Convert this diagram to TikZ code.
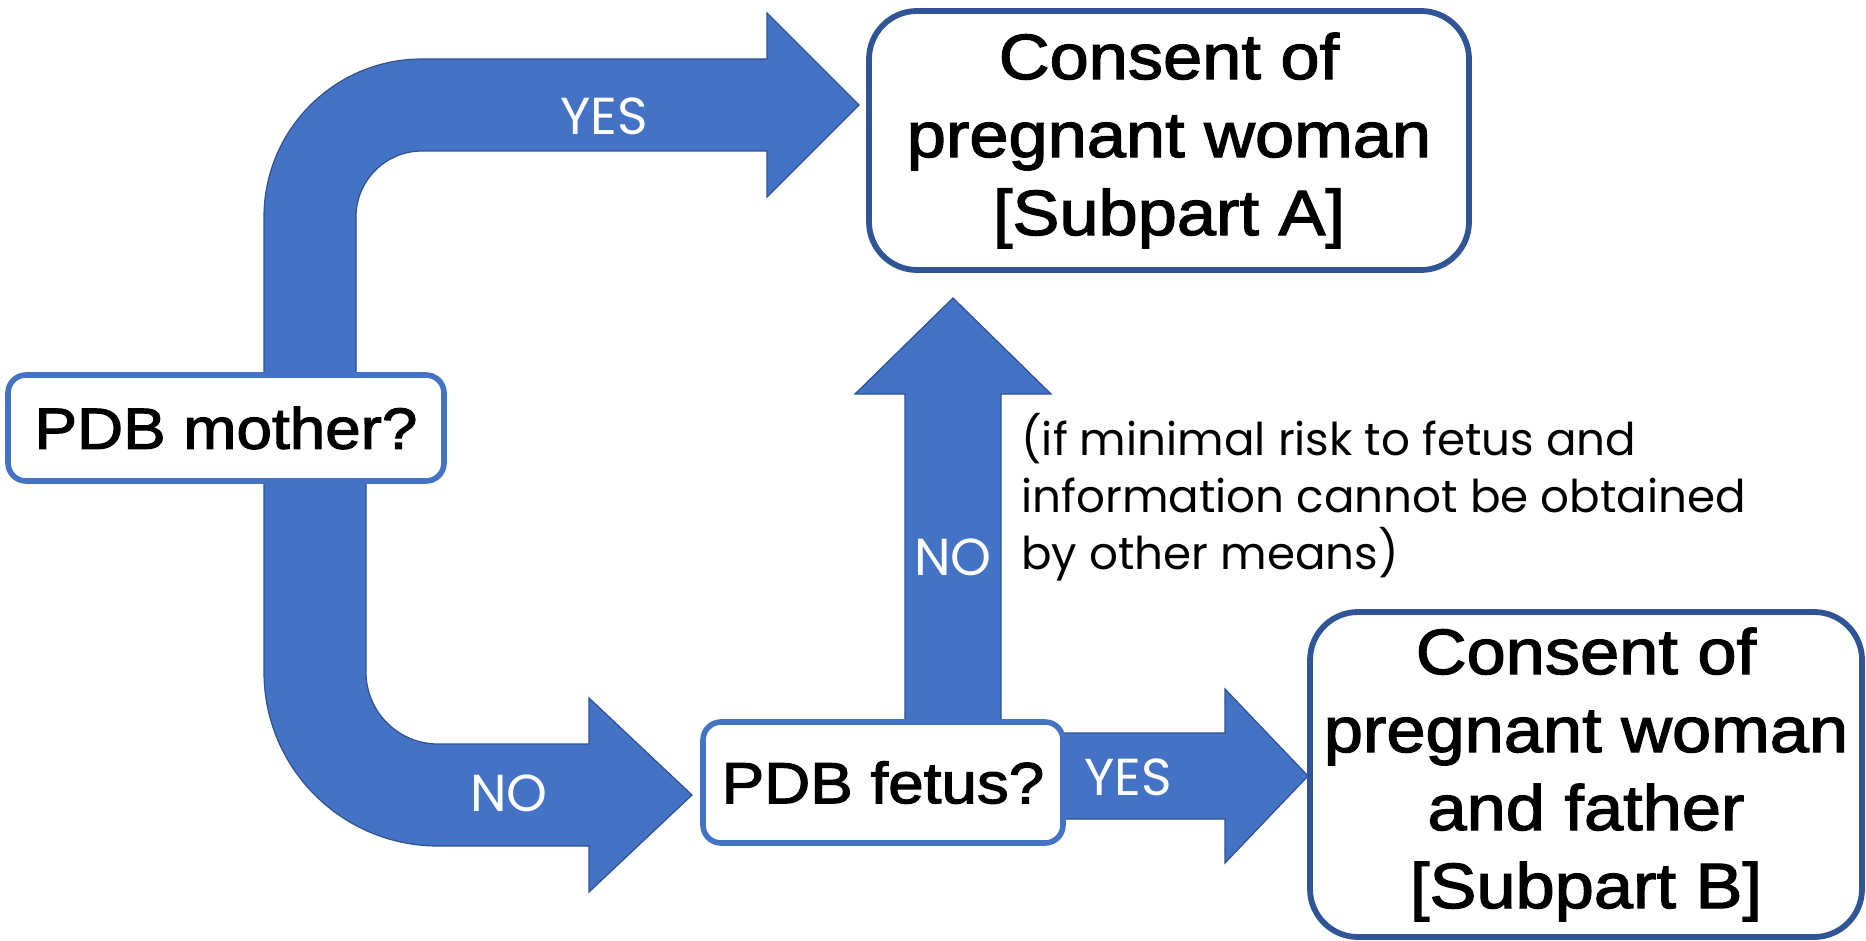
\documentclass[tikz,border=0pt]{standalone}
\usepackage{fontspec}
\usepackage{xcolor}
\setmainfont{Liberation Sans}[FakeStretch=1.1,FakeBold=2]
\newfontfamily\notefont{Poppins}

\definecolor{arrowblue}{HTML}{4472C4}
\definecolor{edgeblue}{HTML}{2F528F}
\definecolor{boxblue}{HTML}{2F5597}

\begin{document}
\begin{tikzpicture}[x=0.5pt,y=-0.5pt,
  blockarrow/.style={fill=arrowblue,draw=edgeblue,line width=0.6pt},
  consentbox/.style={draw=boxblue,line width=2.9pt,fill=white,rounded corners=24pt,
    inner sep=0pt,align=center,font=\fontsize{32}{39}\selectfont},
  questionbox/.style={draw=arrowblue,line width=2.8pt,fill=white,rounded corners=9pt,
    inner sep=0pt,font=\fontsize{29}{35}\selectfont},
  answer/.style={text=white,font=\notefont\fontsize{26}{30}\selectfont}]
\useasboundingbox (0,0) rectangle (1866,941);

% tips of the block arrows
\coordinate (yesAtip) at (859,105);
\coordinate (noFtip) at (692,795);
\coordinate (noAtip) at (953,298);
\coordinate (yesBtip) at (1308,776);

% PDB mother -> YES -> Subpart A
\draw[blockarrow] (264,400) -- (264,217) arc[start angle=180,end angle=270,radius=158]
  -- (767,59) -- (767,13) -- (yesAtip) -- (767,197) -- (767,151) -- (422,151)
  arc[start angle=270,end angle=180,radius=66] -- (356,400) -- cycle;
% PDB mother -> NO -> PDB fetus
\draw[blockarrow] (366,470) -- (366,672) arc[start angle=180,end angle=90,radius=72]
  -- (589,744) -- (589,698) -- (noFtip) -- (589,892) -- (589,846) -- (438,846)
  arc[start angle=90,end angle=180,radius=174] -- (264,470) -- cycle;
% PDB fetus -> NO -> Subpart A
\draw[blockarrow] (905,740) -- (905,394) -- (855,394) -- (noAtip) -- (1051,394)
  -- (1001,394) -- (1001,740) -- cycle;
% PDB fetus -> YES -> Subpart B
\draw[blockarrow] (1040,733) -- (1225,733) -- (1225,689) -- (yesBtip) -- (1225,863)
  -- (1225,819) -- (1040,819) -- cycle;

\node[answer] (yesA) at (604,116) {YES};
\node[answer] (noF) at (509,793) {NO};
\node[answer] (noA) at (953,557) {NO};
\node[answer] (yesB) at (1128,777) {YES};

\node[consentbox,minimum width=300pt,minimum height=129.5pt] (subA) at (1169,140.5)
  {Consent of\\pregnant woman\\{[}Subpart A{]}};
\node[consentbox,minimum width=276pt,minimum height=162.5pt] (subB) at (1586,774.5)
  {Consent of\\pregnant woman\\and father\\{[}Subpart B{]}};
\node[questionbox,minimum width=218pt,minimum height=53pt] (mother) at (226,428) {PDB mother?};
\node[questionbox,minimum width=180pt,minimum height=60.5pt] (fetus) at (883,782.5) {PDB fetus?};

\node[anchor=west,inner sep=0pt,align=left,font=\notefont\fontsize{22.6}{28.5}\selectfont]
  (cond) at (1021,497) {(if minimal risk to fetus and\\information cannot be obtained\\by other means)};
\end{tikzpicture}
\end{document}
